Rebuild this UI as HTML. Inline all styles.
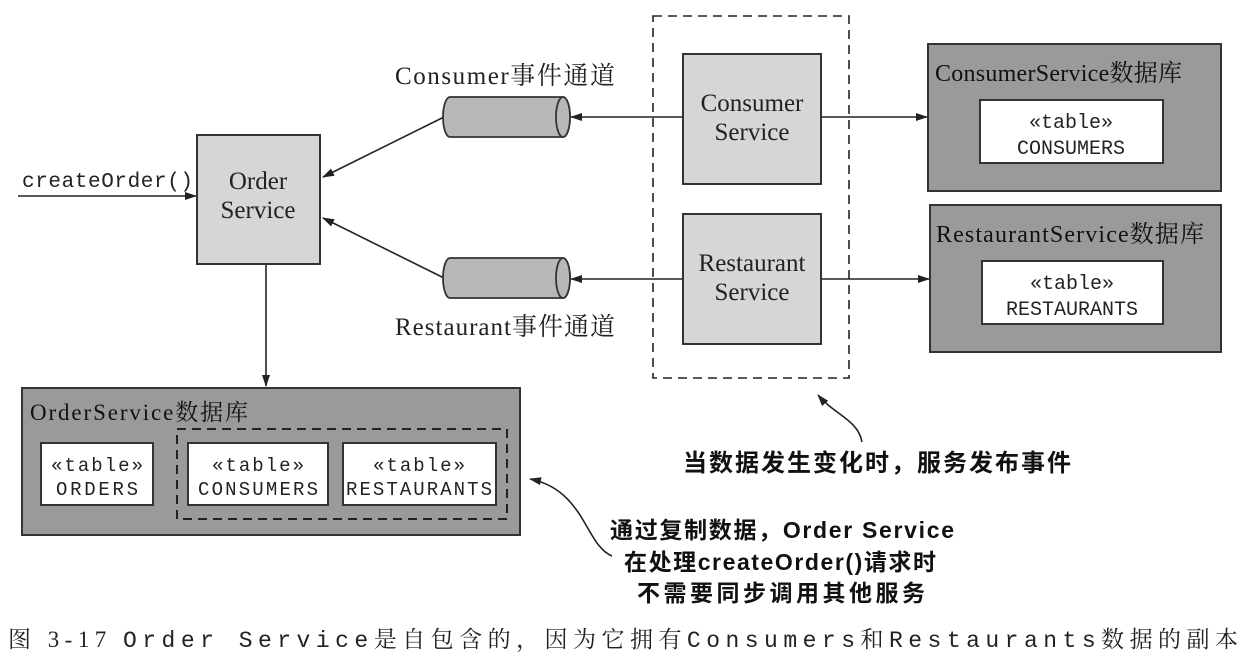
<!DOCTYPE html>
<html><head><meta charset="utf-8"><style>
html,body{margin:0;padding:0;background:#fff;}
svg{display:block}
.serif{font-family:"Liberation Serif","Noto Serif CJK SC",serif;}
.mono{font-family:"Liberation Mono","Noto Sans CJK SC",monospace;}
.sans{font-family:"Liberation Sans","Noto Sans CJK SC",sans-serif;font-weight:bold;}
</style></head><body>
<svg width="1246" height="666" viewBox="0 0 1246 666" xmlns="http://www.w3.org/2000/svg">
<defs>
<marker id="ah" markerWidth="12" markerHeight="8" refX="11" refY="4" orient="auto" markerUnits="userSpaceOnUse">
<path d="M0,0 L12,4 L0,8 Z" fill="#222"/></marker>
</defs>
<g stroke="#222" stroke-width="1.6" fill="none">
<line x1="18" y1="196" x2="196" y2="196" marker-end="url(#ah)"/>
<line x1="266" y1="264" x2="266" y2="386" marker-end="url(#ah)"/>
<line x1="444" y1="117" x2="323" y2="177" marker-end="url(#ah)"/>
<line x1="444" y1="278" x2="323" y2="218" marker-end="url(#ah)"/>
<line x1="683" y1="117" x2="571" y2="117" marker-end="url(#ah)"/>
<line x1="683" y1="279" x2="571" y2="279" marker-end="url(#ah)"/>
<line x1="821" y1="117" x2="927" y2="117" marker-end="url(#ah)"/>
<line x1="821" y1="279" x2="929" y2="279" marker-end="url(#ah)"/>
<path d="M862,442 C858,420 835,415 818,395" marker-end="url(#ah)"/>
<path d="M612,556 C585,545 585,490 530,479" marker-end="url(#ah)"/>
</g>
<rect x="197" y="135" width="123" height="129" fill="#d6d6d6" stroke="#333" stroke-width="2"/>
<text class="serif" x="258" y="189" font-size="25" text-anchor="middle" fill="#222">Order</text>
<text class="serif" x="258" y="218" font-size="25" text-anchor="middle" fill="#222">Service</text>
<text class="mono" x="22" y="187" font-size="21" fill="#222" textLength="171">createOrder()</text>
<g stroke="#333" stroke-width="1.8" fill="#b8b8b8">
<path d="M450,97 L563,97 A7,20 0 0 1 563,137 L450,137 A7,20 0 0 1 450,97 Z"/>
<ellipse cx="563" cy="117" rx="7" ry="20"/>
<path d="M450,258 L563,258 A7,20 0 0 1 563,298 L450,298 A7,20 0 0 1 450,258 Z"/>
<ellipse cx="563" cy="278" rx="7" ry="20"/>
</g>
<text class="serif" x="395" y="84" font-size="25" fill="#222" textLength="220">Consumer事件通道</text>
<text class="serif" x="395" y="335" font-size="25" fill="#222" textLength="220">Restaurant事件通道</text>
<rect x="653" y="16" width="196" height="362" fill="none" stroke="#222" stroke-width="1.6" stroke-dasharray="9,6"/>
<rect x="683" y="54" width="138" height="130" fill="#d6d6d6" stroke="#333" stroke-width="2"/>
<text class="serif" x="752" y="111" font-size="25" text-anchor="middle" fill="#222">Consumer</text>
<text class="serif" x="752" y="140" font-size="25" text-anchor="middle" fill="#222">Service</text>
<rect x="683" y="214" width="138" height="130" fill="#d6d6d6" stroke="#333" stroke-width="2"/>
<text class="serif" x="752" y="271" font-size="25" text-anchor="middle" fill="#222">Restaurant</text>
<text class="serif" x="752" y="300" font-size="25" text-anchor="middle" fill="#222">Service</text>
<rect x="928" y="44" width="293" height="147" fill="#9a9a9a" stroke="#333" stroke-width="2"/>
<text class="serif" x="935" y="81" font-size="24" fill="#111" textLength="247">ConsumerService数据库</text>
<rect x="980" y="100" width="183" height="63" fill="#fff" stroke="#333" stroke-width="2"/>
<text class="mono" x="1071" y="128" font-size="20" text-anchor="middle" fill="#222">«table»</text>
<text class="mono" x="1071" y="154" font-size="20" text-anchor="middle" fill="#222">CONSUMERS</text>
<rect x="930" y="205" width="291" height="147" fill="#9a9a9a" stroke="#333" stroke-width="2"/>
<text class="serif" x="936" y="242" font-size="24" fill="#111" textLength="268">RestaurantService数据库</text>
<rect x="982" y="261" width="181" height="63" fill="#fff" stroke="#333" stroke-width="2"/>
<text class="mono" x="1072" y="289" font-size="20" text-anchor="middle" fill="#222">«table»</text>
<text class="mono" x="1072" y="315" font-size="20" text-anchor="middle" fill="#222">RESTAURANTS</text>
<rect x="22" y="388" width="498" height="147" fill="#9a9a9a" stroke="#333" stroke-width="2"/>
<text class="serif" x="30" y="420" font-size="23" fill="#111" textLength="218">OrderService数据库</text>
<rect x="177" y="429" width="330" height="90" fill="none" stroke="#222" stroke-width="2" stroke-dasharray="9,6"/>
<rect x="41" y="443" width="112" height="62" fill="#fff" stroke="#333" stroke-width="2"/>
<text class="mono" x="97" y="471" font-size="19" text-anchor="middle" fill="#222" textLength="92">«table»</text>
<text class="mono" x="97" y="495" font-size="19" text-anchor="middle" fill="#222" textLength="82">ORDERS</text>
<rect x="188" y="443" width="140" height="62" fill="#fff" stroke="#333" stroke-width="2"/>
<text class="mono" x="258" y="471" font-size="19" text-anchor="middle" fill="#222" textLength="92">«table»</text>
<text class="mono" x="258" y="495" font-size="19" text-anchor="middle" fill="#222" textLength="120">CONSUMERS</text>
<rect x="343" y="443" width="153" height="62" fill="#fff" stroke="#333" stroke-width="2"/>
<text class="mono" x="419" y="471" font-size="19" text-anchor="middle" fill="#222" textLength="92">«table»</text>
<text class="mono" x="419" y="495" font-size="19" text-anchor="middle" fill="#222" textLength="146">RESTAURANTS</text>
<text class="sans" x="877" y="471" font-size="24" text-anchor="middle" fill="#111" textLength="388">当数据发生变化时，服务发布事件</text>
<text class="sans" x="782" y="538" font-size="23" text-anchor="middle" fill="#111" textLength="344">通过复制数据，Order Service</text>
<text class="sans" x="780" y="570" font-size="23" text-anchor="middle" fill="#111" textLength="312">在处理createOrder()请求时</text>
<text class="sans" x="781" y="601" font-size="23" text-anchor="middle" fill="#111" textLength="288">不需要同步调用其他服务</text>
<text x="8" y="647" font-size="23" fill="#222" textLength="1230"><tspan class="serif">图 3-17  </tspan><tspan class="mono">Order Service</tspan><tspan class="serif">是自包含的，因为它拥有</tspan><tspan class="mono">Consumers</tspan><tspan class="serif">和</tspan><tspan class="mono">Restaurants</tspan><tspan class="serif">数据的副本</tspan></text>
</svg>
</body></html>
